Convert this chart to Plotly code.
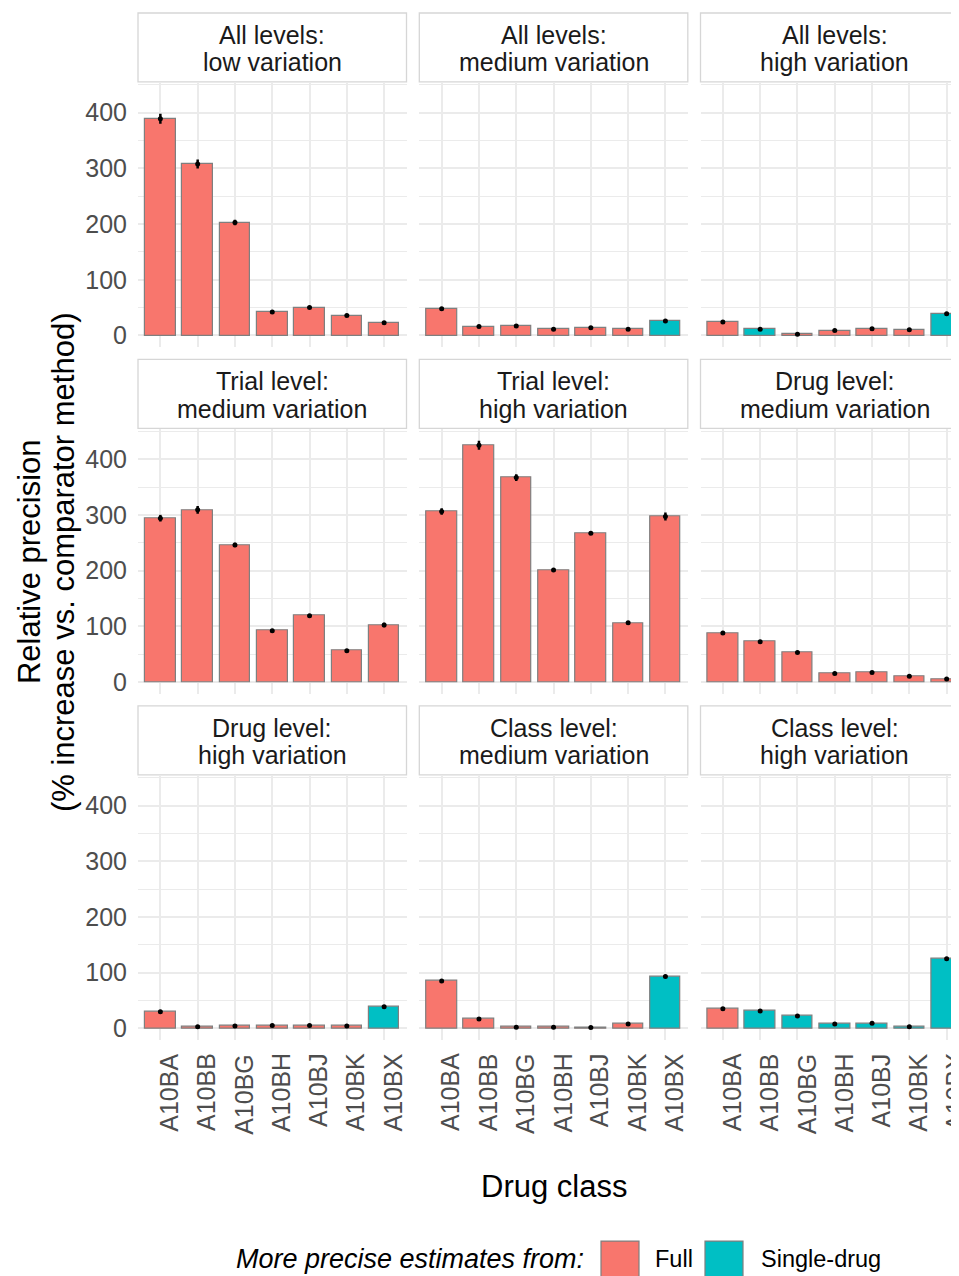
import plotly.graph_objects as go

# The page body has an 8px margin; figure coordinates below are written in
# screen pixels and converted with that offset.
OFF = 8
W, H = 959 - OFF, 1276 - OFF
SCREEN_W = 959

categories = ["A10BA", "A10BB", "A10BG", "A10BH", "A10BJ", "A10BK", "A10BX"]

panel_titles = [
    ("All levels:", "low variation"),
    ("All levels:", "medium variation"),
    ("All levels:", "high variation"),
    ("Trial level:", "medium variation"),
    ("Trial level:", "high variation"),
    ("Drug level:", "medium variation"),
    ("Drug level:", "high variation"),
    ("Class level:", "medium variation"),
    ("Class level:", "high variation"),
]

all_low = [389, 308, 203, 42, 50, 36, 23]
all_low_err = [9, 8, 5, 2, 2, 2, 2]
all_low_src = ["Full", "Full", "Full", "Full", "Full", "Full", "Full"]

all_medium = [48, 16, 17, 11, 14, 11, 26]
all_medium_err = [2, 2, 2, 1, 1, 1, 2]
all_medium_src = ["Full", "Full", "Full", "Full", "Full", "Full", "Single-drug"]

all_high = [24, 11, 2, 9, 12, 10, 39]
all_high_err = [1, 1, 1, 1, 1, 1, 2]
all_high_src = ["Full", "Single-drug", "Full", "Full", "Full", "Full", "Single-drug"]

trial_medium = [294, 309, 246, 92, 119, 56, 102]
trial_medium_err = [6, 7, 4, 2, 2, 2, 4]
trial_medium_src = ["Full", "Full", "Full", "Full", "Full", "Full", "Full"]

trial_high = [306, 425, 367, 201, 267, 106, 297]
trial_high_err = [6, 8, 6, 2, 3, 2, 7]
trial_high_src = ["Full", "Full", "Full", "Full", "Full", "Full", "Full"]

drug_medium = [88, 72, 53, 15, 17, 10, 5]
drug_medium_err = [1, 1, 1, 1, 1, 1, 1]
drug_medium_src = ["Full", "Full", "Full", "Full", "Full", "Full", "Full"]

drug_high = [30, 3, 4, 5, 5, 4, 39]
drug_high_err = [1, 1, 1, 1, 1, 1, 2]
drug_high_src = ["Full", "Full", "Full", "Full", "Full", "Full", "Single-drug"]

class_medium = [85, 17, 2, 2, 1.5, 8, 93]
class_medium_err = [2, 1, 1, 1, 1, 1, 2]
class_medium_src = ["Full", "Full", "Full", "Full", "Full", "Full", "Single-drug"]

class_high = [35, 31, 22, 8, 9, 3, 125]
class_high_err = [1, 1, 1, 1, 1, 1, 1]
class_high_src = ["Full", "Single-drug", "Single-drug", "Single-drug", "Single-drug", "Single-drug", "Single-drug"]

panels = [
    (all_low, all_low_err, all_low_src),
    (all_medium, all_medium_err, all_medium_src),
    (all_high, all_high_err, all_high_src),
    (trial_medium, trial_medium_err, trial_medium_src),
    (trial_high, trial_high_err, trial_high_src),
    (drug_medium, drug_medium_err, drug_medium_src),
    (drug_high, drug_high_err, drug_high_src),
    (class_medium, class_medium_err, class_medium_src),
    (class_high, class_high_err, class_high_src),
]

y_ticks = [0, 100, 200, 300, 400]
legend_labels = ["Full", "Single-drug"]
fill_colors = {"Full": "#F8766D", "Single-drug": "#00BFC4"}

FONT = "Liberation Sans, Arial, Helvetica, sans-serif"
OUTLINE = "#7F7F7F"
GRID = "#EBEBEB"

# layout geometry (screen pixels)
col_left = [138.0, 419.3, 700.5]
col_w = 268.5
unit = col_w / 7.2
row_strip_top = [13.0, 360.0, 707.0]
strip_h = 69.0
row_panel_top = [83.0, 430.0, 777.0]
panel_h = 265.0
y_range = [-21.6, 453.6]


def px(x):
    return (x - OFF) / W


def py(y):
    return 1 - (y - OFF) / H


fig = go.Figure()
shapes = []
annotations = []

for k, (vals, errs, srcs) in enumerate(panels):
    r, c = divmod(k, 3)
    idx = "" if k == 0 else str(k + 1)
    xa, ya = "x" + idx, "y" + idx
    left = col_left[c]
    right = min(left + col_w, SCREEN_W)
    x_hi = -0.6 + (right - left) / unit
    fig.add_trace(go.Bar(
        x=categories, y=vals, xaxis=xa, yaxis=ya, width=0.82,
        marker=dict(color=[fill_colors[s] for s in srcs],
                    line=dict(color=OUTLINE, width=1.2)),
        showlegend=False, hoverinfo="x+y",
    ))
    fig.add_trace(go.Scatter(
        x=categories, y=vals, xaxis=xa, yaxis=ya, mode="markers",
        marker=dict(color="black", size=5),
        error_y=dict(type="data", array=errs, color="black", thickness=2.5, width=0),
        showlegend=False, hoverinfo="skip",
    ))
    top = row_panel_top[r]
    fig.layout["xaxis" + idx] = dict(
        domain=[px(left), px(right)], anchor=ya, type="category",
        categoryorder="array", categoryarray=categories,
        range=[-0.6, x_hi], showgrid=True, gridcolor=GRID, gridwidth=1.6,
        showticklabels=False, ticks="", zeroline=False, showline=False,
        fixedrange=True,
    )
    fig.layout["yaxis" + idx] = dict(
        domain=[py(top + panel_h), py(top)], anchor=xa, range=y_range,
        tickmode="array", tickvals=y_ticks, showgrid=True, gridcolor=GRID,
        gridwidth=1.6, zeroline=False, showline=False, ticks="",
        showticklabels=(c == 0), ticklabelstandoff=10,
        tickfont=dict(family=FONT, size=25, color="#4D4D4D"),
        minor=dict(tickmode="array", tickvals=[50, 150, 250, 350, 450],
                   showgrid=True, gridcolor=GRID, gridwidth=0.8),
        fixedrange=True,
    )
    # strip
    st = row_strip_top[r]
    shapes.append(dict(type="rect", xref="paper", yref="paper",
                       x0=px(left), x1=px(left + col_w), y0=py(st + strip_h), y1=py(st),
                       line=dict(color="#D6D6D6", width=1.3), fillcolor="white", layer="below"))
    cx = left + col_w / 2
    l1, l2 = panel_titles[k]
    annotations.append(dict(text=l1, x=px(cx), y=py(st + 22), xref="paper", yref="paper",
                            xanchor="center", yanchor="middle", showarrow=False,
                            font=dict(family=FONT, size=25, color="#1A1A1A")))
    annotations.append(dict(text=l2, x=px(cx), y=py(st + 49.5), xref="paper", yref="paper",
                            xanchor="center", yanchor="middle", showarrow=False,
                            font=dict(family=FONT, size=25, color="#1A1A1A")))
    # x tick labels on bottom row
    if r == 2:
        for cat in categories:
            annotations.append(dict(text=cat, x=cat, xref=xa, y=py(top + panel_h + 11), yref="paper",
                                    textangle=-90, xanchor="center", yanchor="top", xshift=9,
                                    showarrow=False,
                                    font=dict(family=FONT, size=25, color="#4D4D4D")))

# axis titles
annotations.append(dict(text="Relative precision", x=px(29), y=py(563), xref="paper", yref="paper",
                        textangle=-90, xanchor="center", yanchor="middle", showarrow=False,
                        font=dict(family=FONT, size=31, color="black")))
annotations.append(dict(text="(% increase vs. comparator method)", x=px(63), y=py(563),
                        xref="paper", yref="paper", textangle=-90, xanchor="center",
                        yanchor="middle", showarrow=False,
                        font=dict(family=FONT, size=31, color="black")))
annotations.append(dict(text="Drug class", x=px(553.5), y=py(1188), xref="paper", yref="paper",
                        xanchor="center", yanchor="middle", showarrow=False,
                        font=dict(family=FONT, size=31, color="black")))

# legend
annotations.append(dict(text="<i>More precise estimates from:</i>", x=px(586), y=py(1261),
                        xref="paper", yref="paper", xanchor="right", yanchor="middle",
                        showarrow=False, font=dict(family=FONT, size=27, color="black")))
key_x = [601, 705]
text_x = [653, 759]
for lab, kx, tx in zip(legend_labels, key_x, text_x):
    shapes.append(dict(type="rect", xref="paper", yref="paper", x0=px(kx), x1=px(kx + 38),
                       y0=py(1281), y1=py(1243), fillcolor=fill_colors[lab],
                       line=dict(color=OUTLINE, width=1.2)))
    annotations.append(dict(text=lab, x=px(tx), y=py(1261), xref="paper", yref="paper",
                            xanchor="left", yanchor="middle", showarrow=False,
                            font=dict(family=FONT, size=23.5, color="black")))

fig.update_layout(
    width=W, height=H, margin=dict(l=0, r=0, t=0, b=0),
    paper_bgcolor="white", plot_bgcolor="white",
    shapes=shapes, annotations=annotations, showlegend=False,
    font=dict(family=FONT), bargap=0,
)

fig.write_html("out.html")
